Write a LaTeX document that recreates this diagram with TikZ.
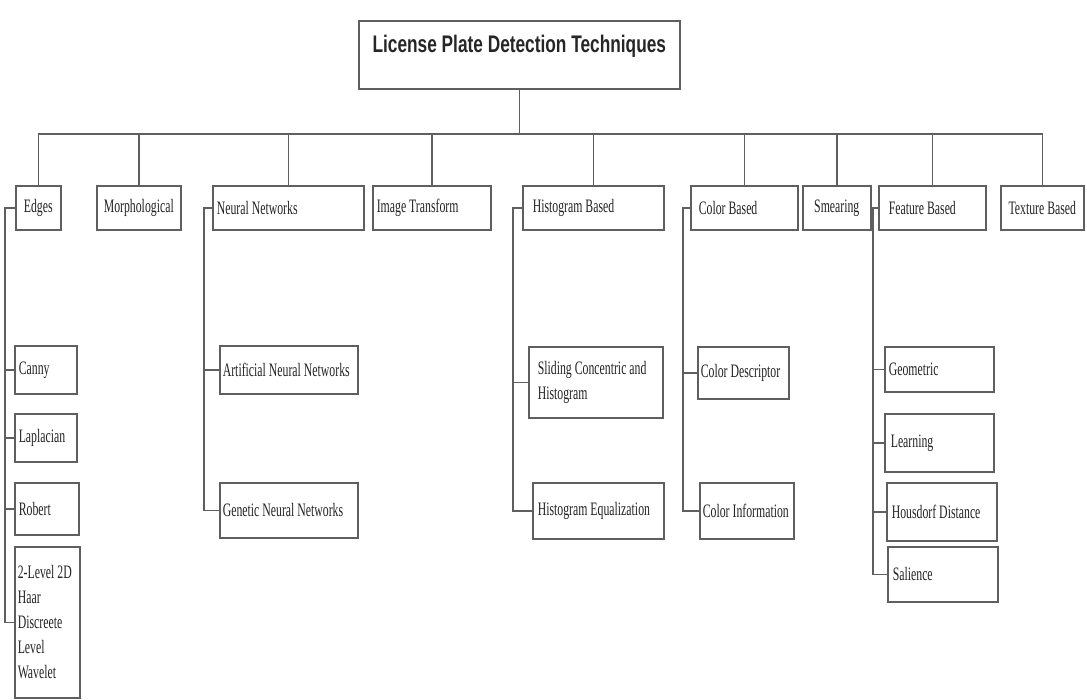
\documentclass[tikz,border=0pt]{standalone}
\usepackage{fontspec}
\newfontfamily\plainserif{Liberation Serif}[FakeStretch=0.62]
\newfontface\headsans{Liberation Sans Bold}[FakeStretch=0.72]
\usetikzlibrary{positioning}
\definecolor{linegray}{RGB}{95,95,95}
\definecolor{inkgray}{RGB}{35,35,35}

\begin{document}
\begin{tikzpicture}[x=1pt, y=-1pt,
    link/.style={draw=linegray, line width=1.6pt},
    cat/.style={draw=linegray, line width=1.6pt, anchor=north west, inner xsep=6pt, inner ysep=0pt,
        minimum height=44pt, text=inkgray, align=flush left, font=\plainserif\fontsize{19}{25}\selectfont},
    mid/.style={cat, inner xsep=0pt, align=center},
    leaf/.style={cat, inner xsep=4pt}
]
    \useasboundingbox (0,0) rectangle (1087,699);
    \node[mid, minimum width=321pt, minimum height=68pt, text height=18pt, text depth=22pt,
        font=\headsans\fontsize{24}{28}\selectfont, text=black!85] (root) at (358,20) {License Plate Detection Techniques};
    \coordinate (bus) at (0,134);

    \node[mid, minimum width=45pt] (edges) at (15,185) {Edges};
    \node[mid, minimum width=84pt] (morph) at (96,185) {Morphological};
    \node[cat, inner xsep=4pt, text width=143pt] (neural) at (212,185) {Neural Networks};
    \node[cat, inner xsep=4pt, text width=110pt] (imgtr) at (372,185) {Image Transform};
    \node[cat, inner xsep=10pt, text width=121pt] (histo) at (522,185) {Histogram Based};
    \node[cat, inner xsep=8pt, text width=91pt] (color) at (690,185) {Color Based};
    \node[mid, minimum width=68pt] (smear) at (802,185) {Smearing};
    \node[cat, inner xsep=10pt, text width=87pt] (feature) at (878,185) {Feature Based};
    \node[mid, minimum width=83pt] (texture) at (1000,185) {Texture Based};

    \node[leaf, text width=54pt, minimum height=48pt] (canny) at (14,345) {Canny};
    \node[leaf, text width=54pt, minimum height=48pt] (laplacian) at (14,413) {Laplacian};
    \node[leaf, text width=56pt, minimum height=52pt] (robert) at (14,482) {Robert};
    \node[leaf, inner xsep=3pt, text width=59pt, minimum height=151pt] (wavelet) at (14,546)
        {2-Level 2D\\Haar\\Discreete\\Level\\Wavelet};

    \node[leaf, inner xsep=3pt, text width=132pt, minimum height=48pt] (ann) at (219,345) {Artificial Neural Networks};
    \node[leaf, inner xsep=3pt, text width=132pt, minimum height=55pt] (gnn) at (219,482) {Genetic Neural Networks};

    \node[leaf, inner xsep=9pt, text width=116pt, minimum height=71pt] (sliding) at (528,346) {Sliding Concentric and\\Histogram};
    \node[leaf, inner xsep=5pt, text width=121pt, minimum height=56pt] (histeq) at (532,482) {Histogram Equalization};

    \node[leaf, inner xsep=3pt, text width=85pt, minimum height=52pt] (colordesc) at (697,346) {Color Descriptor};
    \node[leaf, inner xsep=3pt, text width=88pt, minimum height=56pt] (colorinfo) at (699,482) {Color Information};

    \node[leaf, text width=101pt, minimum height=45pt] (geometric) at (884,346) {Geometric};
    \node[leaf, inner xsep=6pt, text width=97pt, minimum height=58pt] (learning) at (884,413) {Learning};
    \node[leaf, inner xsep=5pt, text width=100pt, minimum height=58pt] (housdorf) at (886,482) {Housdorf Distance};
    \node[leaf, inner xsep=5pt, text width=100pt, minimum height=55pt] (salience) at (887,546) {Salience};

    \coordinate (erail) at (5,0);
    \coordinate (nrail) at (204,0);
    \coordinate (hrail) at (513,0);
    \coordinate (crail) at (683,0);
    \coordinate (frail) at (873,0);

    \draw[link] (root.south) -- (root.south |- bus);
    \draw[link] (edges.north) -- (edges.north |- bus) -- (texture.north |- bus) -- (texture.north);
    \foreach \c in {morph,neural,imgtr,histo,color,smear,feature}
        \draw[link] (\c.north) -- (\c.north |- bus);

    \draw[link] (edges.west) -- (edges.west -| erail) -- (wavelet.west -| erail) -- (wavelet.west);
    \foreach \c in {canny,laplacian,robert}
        \draw[link] (\c.west) -- (\c.west -| erail);

    \draw[link] (neural.west) -- (neural.west -| nrail) -- (gnn.west -| nrail) -- (gnn.west);
    \draw[link] (ann.west) -- (ann.west -| nrail);

    \draw[link] (histo.west) -- (histo.west -| hrail) -- (histeq.west -| hrail) -- (histeq.west);
    \draw[link] (sliding.west) -- (sliding.west -| hrail);

    \draw[link] (color.west) -- (color.west -| crail) -- (colorinfo.west -| crail) -- (colorinfo.west);
    \draw[link] (colordesc.west) -- (colordesc.west -| crail);

    \draw[link] (smear.east) -- (feature.west);
    \draw[link] (smear.east -| frail) -- (salience.west -| frail) -- (salience.west);
    \foreach \c in {geometric,learning,housdorf}
        \draw[link] (\c.west) -- (\c.west -| frail);
\end{tikzpicture}
\end{document}
